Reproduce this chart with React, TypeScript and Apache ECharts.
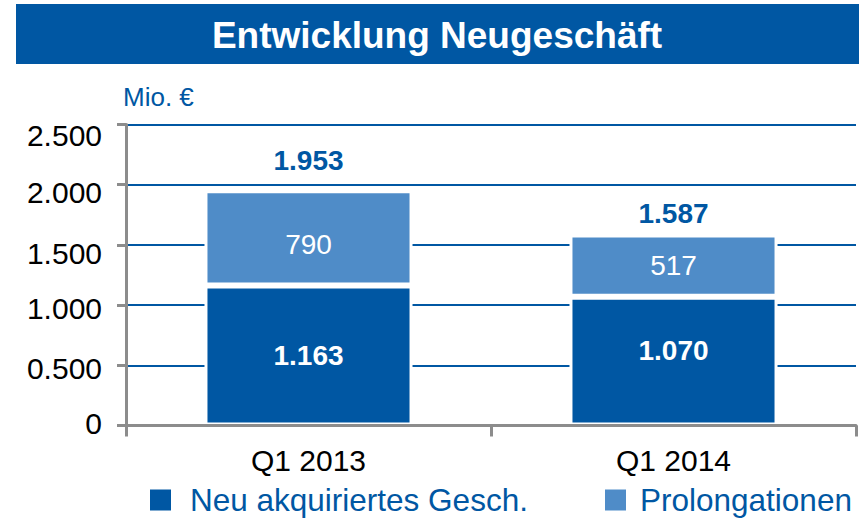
import React, { useEffect, useRef } from "react";
import * as echarts from "echarts";

const categories = ["Q1 2013", "Q1 2014"];
const newBusiness = [1163, 1070];
const prolongations = [790, 517];
const yTickLabels = ["0", "0.500", "1.000", "1.500", "2.000", "2.500"];
const seriesNames = ["Neu akquiriertes Gesch.", "Prolongationen"];
const titleText = "Entwicklung Neugeschäft";
const unitText = "Mio. €";

const DARK = "#0057A3";
const LIGHT = "#4F8CC8";
const GREY = "#8C8C8C";
const FONT = "Liberation Sans, Arial, sans-serif";

function fmt(v: number): string {
  const s = String(Math.round(v));
  return s.replace(/\B(?=(\d{3})+(?!\d))/g, ".");
}

export default function App() {
  const ref = useRef<HTMLDivElement>(null);
  useEffect(() => {
    if (!ref.current) return;
    const chart = echarts.init(ref.current, undefined, { renderer: "svg" });
    const totals = newBusiness.map((v, i) => v + prolongations[i]);
    const yOff = [-2, 3, 3, 9, 8, 11];
    const rich: any = {};
    yTickLabels.forEach((_, i) => {
      const o = yOff[i];
      rich["r" + i] = {
        fontSize: 30,
        fontFamily: FONT,
        color: "#000",
        padding: o >= 0 ? [o * 2, 0, 0, 0] : [0, 0, -o * 2, 0],
      };
    });
    const newLabelOffsets = [[0, 0], [0, -11]];
    const prolLabelOffsets = [[0, 7], [0, 0]];
    const totalDistances = [16, 7];
    const legendCommon = {
      top: 484,
      padding: 0,
      icon: "rect",
      itemWidth: 23,
      itemHeight: 23,
      selectedMode: false,
    };
    chart.setOption({
      animation: false,
      textStyle: { fontFamily: FONT },
      graphic: [
        {
          type: "rect",
          shape: { x: 16, y: 4, width: 843, height: 60 },
          style: { fill: DARK },
        },
        {
          type: "text",
          x: 437,
          y: 35,
          style: {
            text: titleText,
            fill: "#fff",
            fontSize: 37,
            fontWeight: "bold",
            fontFamily: FONT,
            align: "center",
            verticalAlign: "middle",
          },
        },
        {
          type: "text",
          x: 123,
          y: 97,
          style: {
            text: unitText,
            fill: DARK,
            fontSize: 26,
            fontFamily: FONT,
            align: "left",
            verticalAlign: "middle",
          },
        },
      ],
      legend: [
        {
          ...legendCommon,
          data: [seriesNames[0]],
          left: 148,
          textStyle: { color: DARK, fontSize: 31.5, fontFamily: FONT, padding: [0, 0, 0, 13] },
        },
        {
          ...legendCommon,
          data: [seriesNames[1]],
          left: 603,
          textStyle: { color: DARK, fontSize: 31.5, fontFamily: FONT, padding: [0, 0, 0, 8] },
        },
      ],
      grid: { left: 126, right: 3, top: 124.5, bottom: 105.5, containLabel: false },
      xAxis: {
        type: "category",
        data: categories,
        axisLine: { show: true, lineStyle: { color: GREY, width: 3 } },
        axisTick: { show: true, length: 11, lineStyle: { color: GREY, width: 3 } },
        axisLabel: { color: "#000", fontSize: 30, fontFamily: FONT, margin: 20 },
        z: 5,
      },
      yAxis: {
        type: "value",
        min: 0,
        max: 2500,
        interval: 500,
        axisLine: { show: true, lineStyle: { color: GREY, width: 3 } },
        axisTick: { show: true, length: 9, lineStyle: { color: GREY, width: 3 } },
        splitLine: { show: true, lineStyle: { color: DARK, width: 2 } },
        axisLabel: {
          margin: 24,
          formatter: (v: number) => {
            const i = Math.round(v / 500);
            return "{r" + i + "|" + yTickLabels[i] + "}";
          },
          rich,
        },
        z: 0,
      },
      series: [
        {
          name: seriesNames[0],
          type: "bar",
          stack: "total",
          barWidth: "57%",
          z: 2,
          itemStyle: { color: DARK, borderColor: "#fff", borderWidth: 3 },
          data: newBusiness.map((v, i) => ({
            value: v,
            label: { offset: newLabelOffsets[i] },
          })),
          label: {
            show: true,
            position: "inside",
            color: "#fff",
            fontSize: 28,
            fontWeight: "bold",
            fontFamily: FONT,
            formatter: (p: any) => fmt(p.value),
          },
        },
        {
          name: seriesNames[1],
          type: "bar",
          stack: "total",
          barWidth: "57%",
          z: 2,
          itemStyle: { color: LIGHT, borderColor: "#fff", borderWidth: 3 },
          data: prolongations.map((v, i) => ({
            value: v,
            label: { offset: prolLabelOffsets[i] },
          })),
          label: {
            show: true,
            position: "inside",
            color: "#fff",
            fontSize: 28,
            fontFamily: FONT,
            formatter: (p: any) => fmt(p.value),
          },
        },
        {
          name: "Total",
          type: "bar",
          stack: "total",
          barWidth: "57%",
          z: 2,
          itemStyle: { color: "rgba(0,0,0,0)", borderWidth: 0 },
          data: totals.map((_, i) => ({
            value: 0,
            label: { distance: totalDistances[i] },
          })),
          label: {
            show: true,
            position: "top",
            color: DARK,
            fontSize: 28,
            fontWeight: "bold",
            fontFamily: FONT,
            formatter: (p: any) => fmt(totals[p.dataIndex]),
          },
          silent: true,
        },
      ],
    });
    return () => chart.dispose();
  }, []);
  return (
    <div
      ref={ref}
      style={{ position: "fixed", left: 0, top: 0, width: 859, height: 531, background: "#fff" }}
    />
  );
}
